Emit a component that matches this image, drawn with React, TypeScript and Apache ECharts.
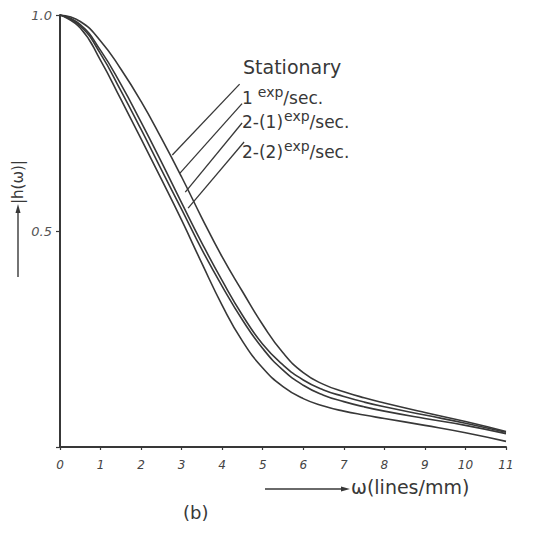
import React, { useEffect, useRef } from "react";
import * as echarts from "echarts";

const xValues = [0, 0.5, 1, 1.5, 2, 2.5, 3, 3.5, 4, 4.5, 5, 5.5, 6, 6.5, 7, 7.5, 8, 9, 10, 11];
const stationary = [1, 0.985, 0.94, 0.875, 0.8, 0.715, 0.625, 0.53, 0.44, 0.36, 0.283, 0.218, 0.172, 0.145, 0.128, 0.114, 0.102, 0.08, 0.059, 0.036];
const exp1 = [1, 0.978, 0.918, 0.84, 0.752, 0.66, 0.565, 0.472, 0.385, 0.305, 0.238, 0.19, 0.155, 0.132, 0.117, 0.104, 0.093, 0.074, 0.055, 0.034];
const exp21 = [1, 0.975, 0.91, 0.825, 0.735, 0.642, 0.55, 0.457, 0.372, 0.294, 0.228, 0.178, 0.143, 0.12, 0.105, 0.093, 0.083, 0.066, 0.05, 0.031];
const exp22 = [1, 0.97, 0.895, 0.805, 0.713, 0.62, 0.525, 0.425, 0.328, 0.245, 0.183, 0.14, 0.112, 0.095, 0.083, 0.074, 0.066, 0.05, 0.033, 0.013];
const xTicks = ["0", "1", "2", "3", "4", "5", "6", "7", "8", "9", "10", "11"];
const yTicks: Record<string, string> = { "0.5": "0.5", "1": "1.0" };

// leader lines: [label end], [curve end] in data units
const leaders = [
  [[4.43, 0.84], [2.77, 0.676]],
  [[4.49, 0.795], [2.96, 0.634]],
  [[4.49, 0.75], [3.09, 0.59]],
  [[4.54, 0.706], [3.16, 0.553]],
];

const INK = "#383838";

export default function App() {
  const ref = useRef<HTMLDivElement>(null);
  useEffect(() => {
    if (!ref.current) return;
    const chart = echarts.init(ref.current, null, { renderer: "svg" });
    const mk = (name: string, vals: number[], extra: any = {}) => ({
      name,
      type: "line",
      data: xValues.map((x, i) => [x, vals[i]]),
      smooth: 0.5,
      symbol: "none",
      lineStyle: { color: INK, width: 1.6 },
      ...extra,
    });
    const font = "'DejaVu Sans', sans-serif";
    const rich = (padLeft: number) => ({
      n: { fontSize: 17, fontFamily: font, fill: INK, verticalAlign: "bottom", lineHeight: 21 },
      s: { fontSize: 14, fontFamily: font, fill: INK, verticalAlign: "top", lineHeight: 21, padding: [0, 0, 8, padLeft] },
    });
    chart.setOption({
      animation: false,
      backgroundColor: "#ffffff",
      grid: { left: 60, right: 32, top: 15, bottom: 89 },
      xAxis: {
        type: "value",
        min: 0,
        max: 11,
        interval: 1,
        splitLine: { show: false },
        axisLine: { lineStyle: { color: INK, width: 2 } },
        axisTick: { show: true, length: 3, lineStyle: { color: INK, width: 1.2 } },
        axisLabel: {
          color: "#444",
          fontSize: 12,
          fontStyle: "italic",
          fontFamily: font,
          margin: 12,
          formatter: (v: number) => xTicks[Math.round(v)] ?? "",
        },
      },
      yAxis: {
        type: "value",
        min: 0,
        max: 1,
        interval: 0.5,
        splitLine: { show: false },
        axisLine: { show: true, lineStyle: { color: INK, width: 2 } },
        axisTick: { show: true, length: 4, lineStyle: { color: INK, width: 1.2 } },
        axisLabel: {
          color: "#555",
          fontSize: 13,
          fontStyle: "italic",
          fontFamily: font,
          margin: 8,
          formatter: (v: number) => yTicks[String(v)] ?? "",
        },
      },
      series: [
        mk("Stationary", stationary, {
          markLine: {
            silent: true,
            symbol: ["none", "none"],
            label: { show: false },
            lineStyle: { color: INK, width: 1.3, type: "solid" },
            data: leaders.map((l) => [{ coord: l[0] }, { coord: l[1] }]),
          },
        }),
        mk("1 exp/sec.", exp1),
        mk("2-(1) exp/sec.", exp21),
        mk("2-(2) exp/sec.", exp22),
      ],
      graphic: [
        { type: "text", left: 243, top: 57, style: { text: "Stationary", font: `19px ${font}`, fill: INK } },
        { type: "text", left: 242, top: 85, style: { text: "{n|1}{s|exp}{n|/sec.}", rich: rich(5) } },
        { type: "text", left: 242, top: 109, style: { text: "{n|2-(1)}{s|exp}{n|/sec.}", rich: rich(1) } },
        { type: "text", left: 242, top: 139, style: { text: "{n|2-(2)}{s|exp}{n|/sec.}", rich: rich(1) } },
        // y-axis name with arrow
        {
          type: "text", x: 18, y: 204, rotation: Math.PI / 2,
          style: { text: "|h(ω)|", font: `15px ${font}`, fill: INK, align: "left", verticalAlign: "middle" },
        },
        { type: "line", shape: { x1: 18, y1: 277, x2: 18, y2: 208 }, style: { stroke: INK, lineWidth: 1.4 } },
        { type: "polygon", shape: { points: [[18, 204], [15.5, 213], [20.5, 213]] }, style: { fill: INK } },
        // x-axis name with arrow
        { type: "line", shape: { x1: 265, y1: 489, x2: 345, y2: 489 }, style: { stroke: INK, lineWidth: 1.4 } },
        { type: "polygon", shape: { points: [[350, 489], [341, 486.5], [341, 491.5]] }, style: { fill: INK } },
        { type: "text", left: 351, top: 477, style: { text: "ω(lines/mm)", font: `19px ${font}`, fill: INK } },
        { type: "text", left: 183, top: 503, style: { text: "(b)", font: `18px ${font}`, fill: INK } },
      ],
    });
    return () => chart.dispose();
  }, []);
  return <div ref={ref} style={{ width: 538, height: 536, margin: -8 }} />;
}
